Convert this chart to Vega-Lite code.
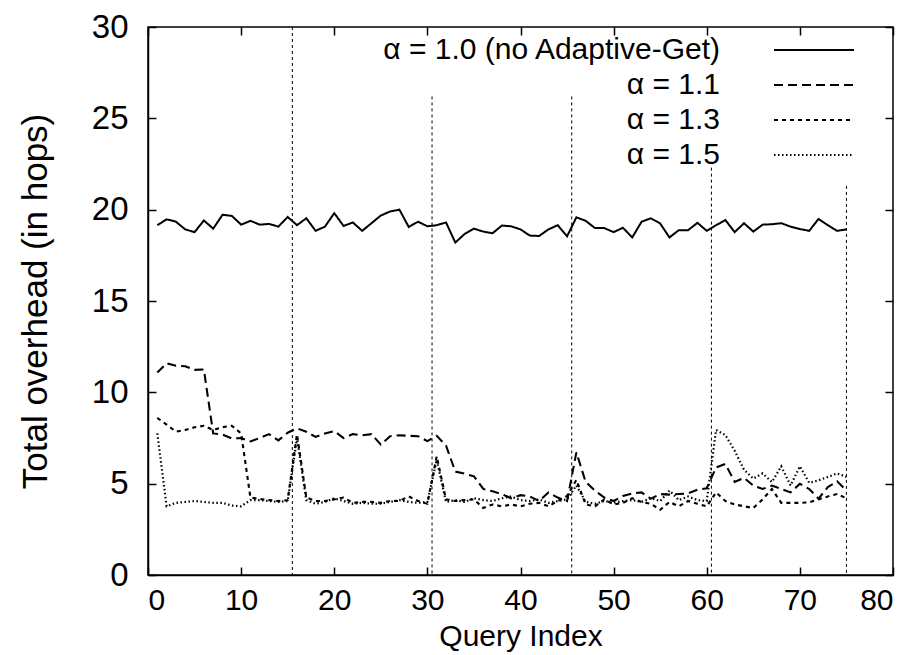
{
  "$schema": "https://vega.github.io/schema/vega-lite/v6.json",
  "width": 745,
  "height": 548,
  "autosize": "none",
  "padding": {"left": 148, "top": 27, "right": 26, "bottom": 80},
  "background": "white",
  "config": {
    "view": {"stroke": "black", "strokeWidth": 1.5},
    "font": "Liberation Sans",
    "axis": {"domainColor": "black", "tickColor": "black", "labelColor": "black", "titleColor": "black", "grid": false, "domainWidth": 1.5, "tickWidth": 1.5}
  },
  "datasets": {
    "dividers": [
      {"x": 15.5, "top": 30},
      {"x": 30.5, "top": 26.2},
      {"x": 45.5, "top": 26.2},
      {"x": 60.5, "top": 22.3},
      {"x": 75, "top": 21.3}
    ],
    "series": [
      {"q":1,"v":19.15,"s":"α = 1.0 (no Adaptive-Get)"},{"q":2,"v":19.47,"s":"α = 1.0 (no Adaptive-Get)"},{"q":3,"v":19.34,"s":"α = 1.0 (no Adaptive-Get)"},{"q":4,"v":18.92,"s":"α = 1.0 (no Adaptive-Get)"},{"q":5,"v":18.77,"s":"α = 1.0 (no Adaptive-Get)"},
      {"q":6,"v":19.41,"s":"α = 1.0 (no Adaptive-Get)"},{"q":7,"v":18.96,"s":"α = 1.0 (no Adaptive-Get)"},{"q":8,"v":19.72,"s":"α = 1.0 (no Adaptive-Get)"},{"q":9,"v":19.66,"s":"α = 1.0 (no Adaptive-Get)"},{"q":10,"v":19.18,"s":"α = 1.0 (no Adaptive-Get)"},
      {"q":11,"v":19.39,"s":"α = 1.0 (no Adaptive-Get)"},{"q":12,"v":19.18,"s":"α = 1.0 (no Adaptive-Get)"},{"q":13,"v":19.22,"s":"α = 1.0 (no Adaptive-Get)"},{"q":14,"v":19.07,"s":"α = 1.0 (no Adaptive-Get)"},{"q":15,"v":19.6,"s":"α = 1.0 (no Adaptive-Get)"},
      {"q":16,"v":19.15,"s":"α = 1.0 (no Adaptive-Get)"},{"q":17,"v":19.53,"s":"α = 1.0 (no Adaptive-Get)"},{"q":18,"v":18.84,"s":"α = 1.0 (no Adaptive-Get)"},{"q":19,"v":19.07,"s":"α = 1.0 (no Adaptive-Get)"},{"q":20,"v":19.81,"s":"α = 1.0 (no Adaptive-Get)"},
      {"q":21,"v":19.11,"s":"α = 1.0 (no Adaptive-Get)"},{"q":22,"v":19.3,"s":"α = 1.0 (no Adaptive-Get)"},{"q":23,"v":18.84,"s":"α = 1.0 (no Adaptive-Get)"},{"q":24,"v":19.26,"s":"α = 1.0 (no Adaptive-Get)"},{"q":25,"v":19.68,"s":"α = 1.0 (no Adaptive-Get)"},
      {"q":26,"v":19.9,"s":"α = 1.0 (no Adaptive-Get)"},{"q":27,"v":20.0,"s":"α = 1.0 (no Adaptive-Get)"},{"q":28,"v":19.05,"s":"α = 1.0 (no Adaptive-Get)"},{"q":29,"v":19.34,"s":"α = 1.0 (no Adaptive-Get)"},{"q":30,"v":19.09,"s":"α = 1.0 (no Adaptive-Get)"},
      {"q":31,"v":19.15,"s":"α = 1.0 (no Adaptive-Get)"},{"q":32,"v":19.3,"s":"α = 1.0 (no Adaptive-Get)"},{"q":33,"v":18.2,"s":"α = 1.0 (no Adaptive-Get)"},{"q":34,"v":18.67,"s":"α = 1.0 (no Adaptive-Get)"},{"q":35,"v":18.96,"s":"α = 1.0 (no Adaptive-Get)"},
      {"q":36,"v":18.8,"s":"α = 1.0 (no Adaptive-Get)"},{"q":37,"v":18.71,"s":"α = 1.0 (no Adaptive-Get)"},{"q":38,"v":19.13,"s":"α = 1.0 (no Adaptive-Get)"},{"q":39,"v":19.09,"s":"α = 1.0 (no Adaptive-Get)"},{"q":40,"v":18.92,"s":"α = 1.0 (no Adaptive-Get)"},
      {"q":41,"v":18.58,"s":"α = 1.0 (no Adaptive-Get)"},{"q":42,"v":18.56,"s":"α = 1.0 (no Adaptive-Get)"},{"q":43,"v":18.92,"s":"α = 1.0 (no Adaptive-Get)"},{"q":44,"v":19.15,"s":"α = 1.0 (no Adaptive-Get)"},{"q":45,"v":18.54,"s":"α = 1.0 (no Adaptive-Get)"},
      {"q":46,"v":19.58,"s":"α = 1.0 (no Adaptive-Get)"},{"q":47,"v":19.39,"s":"α = 1.0 (no Adaptive-Get)"},{"q":48,"v":18.99,"s":"α = 1.0 (no Adaptive-Get)"},{"q":49,"v":18.99,"s":"α = 1.0 (no Adaptive-Get)"},{"q":50,"v":18.77,"s":"α = 1.0 (no Adaptive-Get)"},
      {"q":51,"v":19.01,"s":"α = 1.0 (no Adaptive-Get)"},{"q":52,"v":18.48,"s":"α = 1.0 (no Adaptive-Get)"},{"q":53,"v":19.34,"s":"α = 1.0 (no Adaptive-Get)"},{"q":54,"v":19.53,"s":"α = 1.0 (no Adaptive-Get)"},{"q":55,"v":19.24,"s":"α = 1.0 (no Adaptive-Get)"},
      {"q":56,"v":18.48,"s":"α = 1.0 (no Adaptive-Get)"},{"q":57,"v":18.88,"s":"α = 1.0 (no Adaptive-Get)"},{"q":58,"v":18.88,"s":"α = 1.0 (no Adaptive-Get)"},{"q":59,"v":19.28,"s":"α = 1.0 (no Adaptive-Get)"},{"q":60,"v":18.84,"s":"α = 1.0 (no Adaptive-Get)"},
      {"q":61,"v":19.15,"s":"α = 1.0 (no Adaptive-Get)"},{"q":62,"v":19.43,"s":"α = 1.0 (no Adaptive-Get)"},{"q":63,"v":18.77,"s":"α = 1.0 (no Adaptive-Get)"},{"q":64,"v":19.26,"s":"α = 1.0 (no Adaptive-Get)"},{"q":65,"v":18.8,"s":"α = 1.0 (no Adaptive-Get)"},
      {"q":66,"v":19.18,"s":"α = 1.0 (no Adaptive-Get)"},{"q":67,"v":19.2,"s":"α = 1.0 (no Adaptive-Get)"},{"q":68,"v":19.26,"s":"α = 1.0 (no Adaptive-Get)"},{"q":69,"v":19.07,"s":"α = 1.0 (no Adaptive-Get)"},{"q":70,"v":18.94,"s":"α = 1.0 (no Adaptive-Get)"},
      {"q":71,"v":18.84,"s":"α = 1.0 (no Adaptive-Get)"},{"q":72,"v":19.49,"s":"α = 1.0 (no Adaptive-Get)"},{"q":73,"v":19.15,"s":"α = 1.0 (no Adaptive-Get)"},{"q":74,"v":18.84,"s":"α = 1.0 (no Adaptive-Get)"},{"q":75,"v":18.92,"s":"α = 1.0 (no Adaptive-Get)"},

      {"q":1,"v":11.08,"s":"α = 1.1"},{"q":2,"v":11.59,"s":"α = 1.1"},{"q":3,"v":11.45,"s":"α = 1.1"},{"q":4,"v":11.43,"s":"α = 1.1"},{"q":5,"v":11.23,"s":"α = 1.1"},
      {"q":6,"v":11.25,"s":"α = 1.1"},{"q":7,"v":7.75,"s":"α = 1.1"},{"q":8,"v":7.69,"s":"α = 1.1"},{"q":9,"v":7.47,"s":"α = 1.1"},{"q":10,"v":7.5,"s":"α = 1.1"},
      {"q":11,"v":7.31,"s":"α = 1.1"},{"q":12,"v":7.5,"s":"α = 1.1"},{"q":13,"v":7.71,"s":"α = 1.1"},{"q":14,"v":7.37,"s":"α = 1.1"},{"q":15,"v":7.79,"s":"α = 1.1"},
      {"q":16,"v":8.03,"s":"α = 1.1"},{"q":17,"v":7.84,"s":"α = 1.1"},{"q":18,"v":7.56,"s":"α = 1.1"},{"q":19,"v":7.75,"s":"α = 1.1"},{"q":20,"v":7.88,"s":"α = 1.1"},
      {"q":21,"v":7.5,"s":"α = 1.1"},{"q":22,"v":7.71,"s":"α = 1.1"},{"q":23,"v":7.65,"s":"α = 1.1"},{"q":24,"v":7.71,"s":"α = 1.1"},{"q":25,"v":7.14,"s":"α = 1.1"},
      {"q":26,"v":7.6,"s":"α = 1.1"},{"q":27,"v":7.65,"s":"α = 1.1"},{"q":28,"v":7.62,"s":"α = 1.1"},{"q":29,"v":7.6,"s":"α = 1.1"},{"q":30,"v":7.33,"s":"α = 1.1"},
      {"q":31,"v":7.62,"s":"α = 1.1"},{"q":32,"v":7.09,"s":"α = 1.1"},{"q":33,"v":5.66,"s":"α = 1.1"},{"q":34,"v":5.55,"s":"α = 1.1"},{"q":35,"v":5.4,"s":"α = 1.1"},
      {"q":36,"v":4.71,"s":"α = 1.1"},{"q":37,"v":4.58,"s":"α = 1.1"},{"q":38,"v":4.43,"s":"α = 1.1"},{"q":39,"v":4.2,"s":"α = 1.1"},{"q":40,"v":4.37,"s":"α = 1.1"},
      {"q":41,"v":4.3,"s":"α = 1.1"},{"q":42,"v":4.05,"s":"α = 1.1"},{"q":43,"v":4.52,"s":"α = 1.1"},{"q":44,"v":4.24,"s":"α = 1.1"},{"q":45,"v":4.05,"s":"α = 1.1"},
      {"q":46,"v":6.71,"s":"α = 1.1"},{"q":47,"v":5.09,"s":"α = 1.1"},{"q":48,"v":4.62,"s":"α = 1.1"},{"q":49,"v":4.24,"s":"α = 1.1"},{"q":50,"v":4.05,"s":"α = 1.1"},
      {"q":51,"v":4.33,"s":"α = 1.1"},{"q":52,"v":4.47,"s":"α = 1.1"},{"q":53,"v":4.52,"s":"α = 1.1"},{"q":54,"v":4.18,"s":"α = 1.1"},{"q":55,"v":4.43,"s":"α = 1.1"},
      {"q":56,"v":4.4,"s":"α = 1.1"},{"q":57,"v":4.43,"s":"α = 1.1"},{"q":58,"v":4.47,"s":"α = 1.1"},{"q":59,"v":4.67,"s":"α = 1.1"},{"q":60,"v":4.75,"s":"α = 1.1"},
      {"q":61,"v":5.89,"s":"α = 1.1"},{"q":62,"v":6.08,"s":"α = 1.1"},{"q":63,"v":5.09,"s":"α = 1.1"},{"q":64,"v":5.32,"s":"α = 1.1"},{"q":65,"v":4.9,"s":"α = 1.1"},
      {"q":66,"v":4.71,"s":"α = 1.1"},{"q":67,"v":4.9,"s":"α = 1.1"},{"q":68,"v":4.71,"s":"α = 1.1"},{"q":69,"v":4.52,"s":"α = 1.1"},{"q":70,"v":4.99,"s":"α = 1.1"},
      {"q":71,"v":4.71,"s":"α = 1.1"},{"q":72,"v":4.18,"s":"α = 1.1"},{"q":73,"v":4.81,"s":"α = 1.1"},{"q":74,"v":5.13,"s":"α = 1.1"},{"q":75,"v":4.62,"s":"α = 1.1"},

      {"q":1,"v":8.6,"s":"α = 1.3"},{"q":2,"v":8.23,"s":"α = 1.3"},{"q":3,"v":7.85,"s":"α = 1.3"},{"q":4,"v":7.94,"s":"α = 1.3"},{"q":5,"v":8.09,"s":"α = 1.3"},
      {"q":6,"v":8.17,"s":"α = 1.3"},{"q":7,"v":7.94,"s":"α = 1.3"},{"q":8,"v":8.09,"s":"α = 1.3"},{"q":9,"v":8.17,"s":"α = 1.3"},{"q":10,"v":7.75,"s":"α = 1.3"},
      {"q":11,"v":4.24,"s":"α = 1.3"},{"q":12,"v":4.16,"s":"α = 1.3"},{"q":13,"v":4.1,"s":"α = 1.3"},{"q":14,"v":4.05,"s":"α = 1.3"},{"q":15,"v":4.1,"s":"α = 1.3"},
      {"q":16,"v":7.7,"s":"α = 1.3"},{"q":17,"v":4.24,"s":"α = 1.3"},{"q":18,"v":4.05,"s":"α = 1.3"},{"q":19,"v":4.05,"s":"α = 1.3"},{"q":20,"v":4.14,"s":"α = 1.3"},
      {"q":21,"v":4.24,"s":"α = 1.3"},{"q":22,"v":3.95,"s":"α = 1.3"},{"q":23,"v":4.0,"s":"α = 1.3"},{"q":24,"v":4.0,"s":"α = 1.3"},{"q":25,"v":3.95,"s":"α = 1.3"},
      {"q":26,"v":4.05,"s":"α = 1.3"},{"q":27,"v":4.05,"s":"α = 1.3"},{"q":28,"v":4.3,"s":"α = 1.3"},{"q":29,"v":4.05,"s":"α = 1.3"},{"q":30,"v":3.9,"s":"α = 1.3"},
      {"q":31,"v":6.5,"s":"α = 1.3"},{"q":32,"v":4.14,"s":"α = 1.3"},{"q":33,"v":4.05,"s":"α = 1.3"},{"q":34,"v":4.1,"s":"α = 1.3"},{"q":35,"v":4.14,"s":"α = 1.3"},
      {"q":36,"v":3.67,"s":"α = 1.3"},{"q":37,"v":3.86,"s":"α = 1.3"},{"q":38,"v":3.76,"s":"α = 1.3"},{"q":39,"v":3.86,"s":"α = 1.3"},{"q":40,"v":3.76,"s":"α = 1.3"},
      {"q":41,"v":3.9,"s":"α = 1.3"},{"q":42,"v":3.95,"s":"α = 1.3"},{"q":43,"v":3.76,"s":"α = 1.3"},{"q":44,"v":4.05,"s":"α = 1.3"},{"q":45,"v":4.33,"s":"α = 1.3"},
      {"q":46,"v":5.2,"s":"α = 1.3"},{"q":47,"v":3.86,"s":"α = 1.3"},{"q":48,"v":3.76,"s":"α = 1.3"},{"q":49,"v":4.14,"s":"α = 1.3"},{"q":50,"v":3.86,"s":"α = 1.3"},
      {"q":51,"v":3.95,"s":"α = 1.3"},{"q":52,"v":4.2,"s":"α = 1.3"},{"q":53,"v":4.0,"s":"α = 1.3"},{"q":54,"v":3.9,"s":"α = 1.3"},{"q":55,"v":3.57,"s":"α = 1.3"},
      {"q":56,"v":4.0,"s":"α = 1.3"},{"q":57,"v":3.76,"s":"α = 1.3"},{"q":58,"v":4.05,"s":"α = 1.3"},{"q":59,"v":3.9,"s":"α = 1.3"},{"q":60,"v":3.76,"s":"α = 1.3"},
      {"q":61,"v":4.52,"s":"α = 1.3"},{"q":62,"v":4.05,"s":"α = 1.3"},{"q":63,"v":3.86,"s":"α = 1.3"},{"q":64,"v":3.76,"s":"α = 1.3"},{"q":65,"v":3.67,"s":"α = 1.3"},
      {"q":66,"v":4.14,"s":"α = 1.3"},{"q":67,"v":4.71,"s":"α = 1.3"},{"q":68,"v":3.95,"s":"α = 1.3"},{"q":69,"v":3.95,"s":"α = 1.3"},{"q":70,"v":3.95,"s":"α = 1.3"},
      {"q":71,"v":3.98,"s":"α = 1.3"},{"q":72,"v":4.14,"s":"α = 1.3"},{"q":73,"v":4.3,"s":"α = 1.3"},{"q":74,"v":4.43,"s":"α = 1.3"},{"q":75,"v":4.2,"s":"α = 1.3"},

      {"q":1,"v":7.75,"s":"α = 1.5"},{"q":2,"v":3.76,"s":"α = 1.5"},{"q":3,"v":3.95,"s":"α = 1.5"},{"q":4,"v":4.0,"s":"α = 1.5"},{"q":5,"v":4.05,"s":"α = 1.5"},
      {"q":6,"v":4.0,"s":"α = 1.5"},{"q":7,"v":3.95,"s":"α = 1.5"},{"q":8,"v":3.95,"s":"α = 1.5"},{"q":9,"v":3.8,"s":"α = 1.5"},{"q":10,"v":3.76,"s":"α = 1.5"},
      {"q":11,"v":4.1,"s":"α = 1.5"},{"q":12,"v":4.1,"s":"α = 1.5"},{"q":13,"v":4.05,"s":"α = 1.5"},{"q":14,"v":4.0,"s":"α = 1.5"},{"q":15,"v":4.05,"s":"α = 1.5"},
      {"q":16,"v":7.5,"s":"α = 1.5"},{"q":17,"v":4.1,"s":"α = 1.5"},{"q":18,"v":3.9,"s":"α = 1.5"},{"q":19,"v":4.0,"s":"α = 1.5"},{"q":20,"v":4.2,"s":"α = 1.5"},
      {"q":21,"v":4.05,"s":"α = 1.5"},{"q":22,"v":3.9,"s":"α = 1.5"},{"q":23,"v":3.95,"s":"α = 1.5"},{"q":24,"v":3.9,"s":"α = 1.5"},{"q":25,"v":3.9,"s":"α = 1.5"},
      {"q":26,"v":4.0,"s":"α = 1.5"},{"q":27,"v":4.1,"s":"α = 1.5"},{"q":28,"v":4.0,"s":"α = 1.5"},{"q":29,"v":3.95,"s":"α = 1.5"},{"q":30,"v":4.0,"s":"α = 1.5"},
      {"q":31,"v":6.3,"s":"α = 1.5"},{"q":32,"v":4.0,"s":"α = 1.5"},{"q":33,"v":4.1,"s":"α = 1.5"},{"q":34,"v":4.0,"s":"α = 1.5"},{"q":35,"v":4.2,"s":"α = 1.5"},
      {"q":36,"v":4.1,"s":"α = 1.5"},{"q":37,"v":4.05,"s":"α = 1.5"},{"q":38,"v":4.2,"s":"α = 1.5"},{"q":39,"v":4.3,"s":"α = 1.5"},{"q":40,"v":4.1,"s":"α = 1.5"},
      {"q":41,"v":4.05,"s":"α = 1.5"},{"q":42,"v":4.14,"s":"α = 1.5"},{"q":43,"v":3.95,"s":"α = 1.5"},{"q":44,"v":4.05,"s":"α = 1.5"},{"q":45,"v":4.14,"s":"α = 1.5"},
      {"q":46,"v":4.9,"s":"α = 1.5"},{"q":47,"v":4.0,"s":"α = 1.5"},{"q":48,"v":3.9,"s":"α = 1.5"},{"q":49,"v":4.05,"s":"α = 1.5"},{"q":50,"v":3.95,"s":"α = 1.5"},
      {"q":51,"v":4.05,"s":"α = 1.5"},{"q":52,"v":4.1,"s":"α = 1.5"},{"q":53,"v":4.0,"s":"α = 1.5"},{"q":54,"v":4.2,"s":"α = 1.5"},{"q":55,"v":4.05,"s":"α = 1.5"},
      {"q":56,"v":4.62,"s":"α = 1.5"},{"q":57,"v":4.1,"s":"α = 1.5"},{"q":58,"v":4.3,"s":"α = 1.5"},{"q":59,"v":4.1,"s":"α = 1.5"},{"q":60,"v":4.05,"s":"α = 1.5"},
      {"q":61,"v":7.94,"s":"α = 1.5"},{"q":62,"v":7.66,"s":"α = 1.5"},{"q":63,"v":6.8,"s":"α = 1.5"},{"q":64,"v":5.76,"s":"α = 1.5"},{"q":65,"v":5.28,"s":"α = 1.5"},
      {"q":66,"v":5.56,"s":"α = 1.5"},{"q":67,"v":5.09,"s":"α = 1.5"},{"q":68,"v":5.95,"s":"α = 1.5"},{"q":69,"v":4.9,"s":"α = 1.5"},{"q":70,"v":5.95,"s":"α = 1.5"},
      {"q":71,"v":5.05,"s":"α = 1.5"},{"q":72,"v":5.18,"s":"α = 1.5"},{"q":73,"v":5.37,"s":"α = 1.5"},{"q":74,"v":5.56,"s":"α = 1.5"},{"q":75,"v":5.37,"s":"α = 1.5"}
    ]
  },
  "layer": [
    {
      "data": {"name": "dividers"},
      "mark": {"type": "rule", "color": "black", "strokeWidth": 1, "strokeDash": [3, 3]},
      "encoding": {
        "x": {"field": "x", "type": "quantitative", "scale": {"domain": [0, 80], "nice": false},
              "axis": {"orient": "bottom", "values": [0,10,20,30,40,50,60,70,80], "tickSize": -8, "labelFontSize": 30, "labelPadding": 18, "title": "Query Index", "titleFontSize": 30, "titleFontWeight": "normal", "titlePadding": 6}},
        "y": {"field": "top", "type": "quantitative", "scale": {"domain": [0, 30], "nice": false},
              "axis": {"orient": "right", "values": [0,5,10,15,20,25,30], "tickSize": -8, "labels": false, "title": null, "domain": false}},
        "y2": {"datum": 0}
      }
    },
    {
      "data": {"name": "series"},
      "mark": {"type": "line", "color": "black"},
      "encoding": {
        "x": {"field": "q", "type": "quantitative",
              "axis": {"orient": "top", "values": [0,10,20,30,40,50,60,70,80], "tickSize": -8, "labels": false, "title": null, "domain": false}},
        "y": {"field": "v", "type": "quantitative",
              "axis": {"orient": "left", "values": [0,5,10,15,20,25,30], "tickSize": -8, "labelFontSize": 33, "labelPadding": 28, "title": "Total overhead (in hops)", "titleFontSize": 35, "titleFontWeight": "normal", "titlePadding": 38}},
        "strokeDash": {"field": "s", "type": "nominal",
          "scale": {"domain": ["α = 1.0 (no Adaptive-Get)", "α = 1.1", "α = 1.3", "α = 1.5"], "range": [[1, 0], [9, 5], [4, 4], [1.5, 2.5]]},
          "legend": {"orient": "none", "legendX": 651, "legendY": 8, "padding": 0, "title": null, "labelFontSize": 30, "labelLimit": 0, "labelAlign": "right", "labelOffset": -109, "symbolType": "M-5,0H5", "symbolSize": 256, "symbolStrokeColor": "black", "symbolStrokeWidth": 1.5, "symbolFillColor": "transparent", "rowPadding": 5}},
        "strokeWidth": {"field": "s", "type": "nominal",
          "scale": {"domain": ["α = 1.0 (no Adaptive-Get)", "α = 1.1", "α = 1.3", "α = 1.5"], "range": [2, 2.2, 2, 1.5]},
          "legend": null}
      }
    }
  ],
  "resolve": {"axis": {"x": "independent", "y": "independent"}}
}
